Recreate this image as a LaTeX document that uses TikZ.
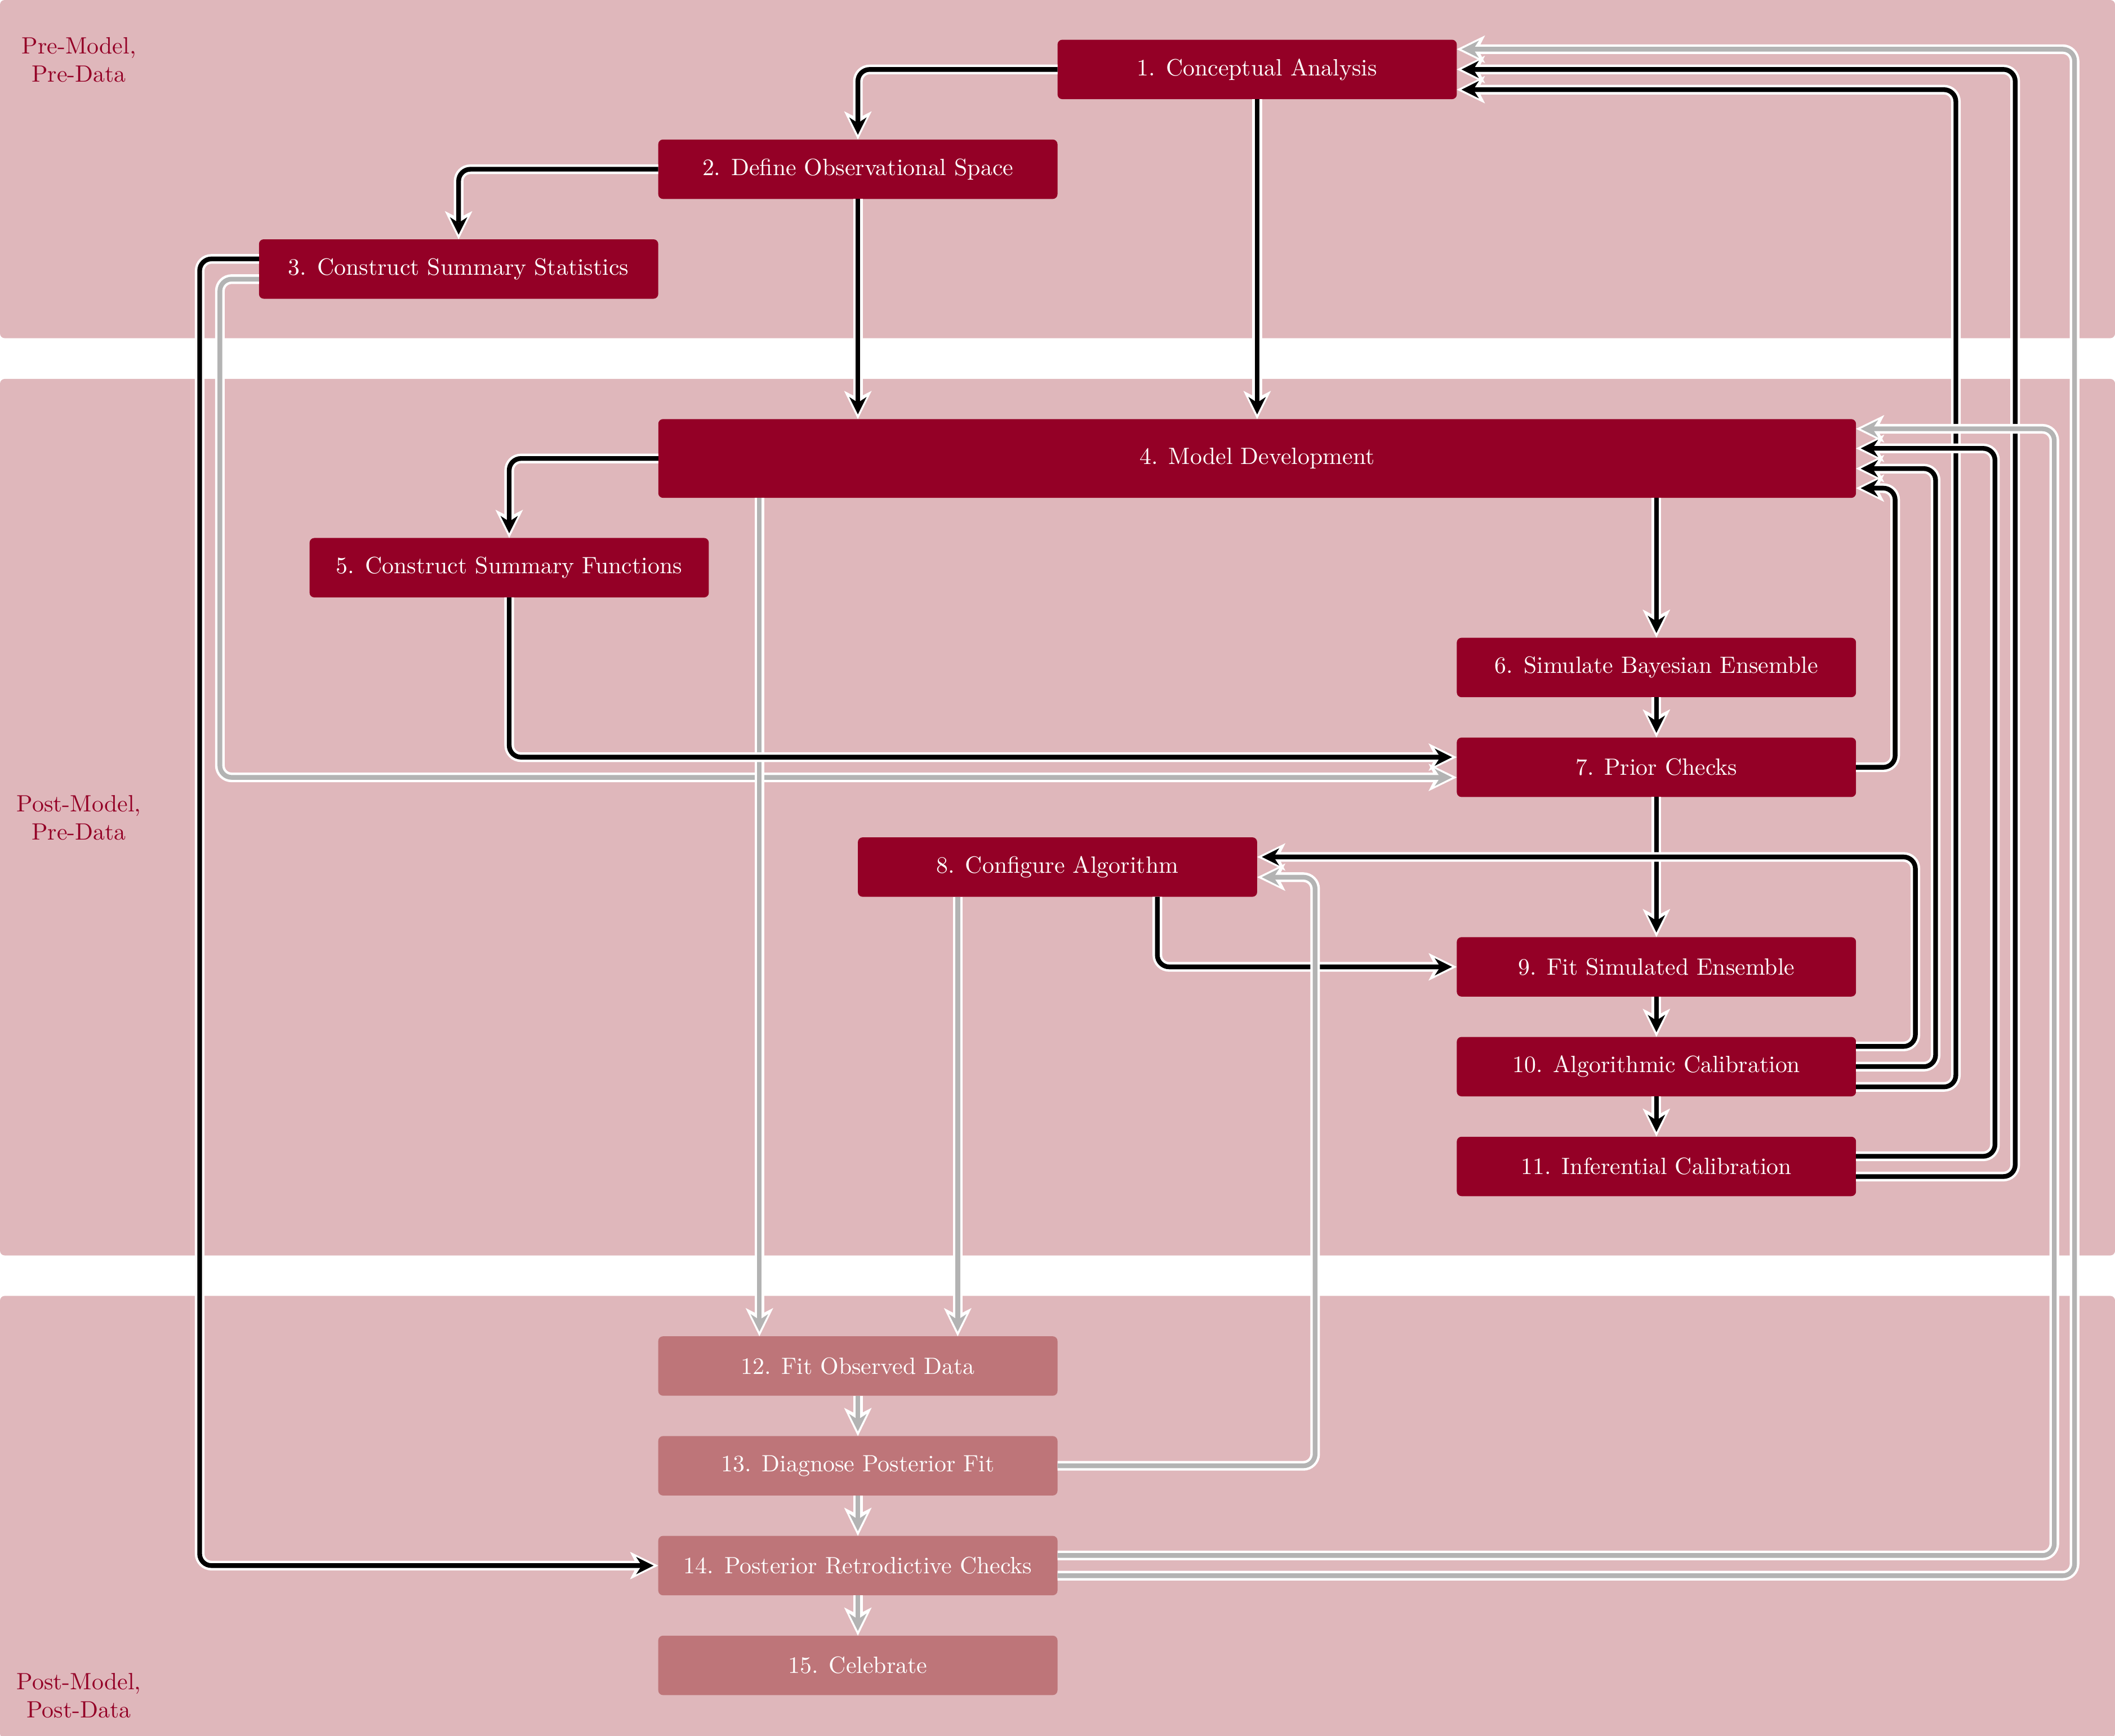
\documentclass[tikz,border=0pt]{standalone}
\usepackage{fontspec}
\usetikzlibrary{arrows.meta,calc}
\definecolor{bandc}{RGB}{223,183,187}
\definecolor{boxdark}{RGB}{148,0,38}
\definecolor{boxlight}{RGB}{190,117,121}
\definecolor{linegray}{RGB}{179,179,179}
\tikzset{
  band/.style={fill=bandc, draw=none, rounded corners=2pt},
  phase/.style={text=boxdark, align=center, font=\normalsize, inner sep=0pt},
  stepnode/.style={fill=boxdark, text=white, rounded corners=2pt, minimum width=169.3pt, minimum height=25.2pt, inner sep=0pt, outer sep=0pt, font=\normalsize},
  laterstep/.style={stepnode, fill=boxlight},
  widestep/.style={stepnode, minimum width=507.9pt, minimum height=33.4pt},
  link/.style={rounded corners=5pt, line width=2pt,
     preaction={draw=white, line width=4.1pt, shorten >=0pt,
       -{Stealth[length=12pt,width=11.7pt,inset=3pt,line width=0pt]}}},
  blackflow/.style={link, draw=black, shorten >=2pt,
       -{Stealth[length=7.4pt,width=7.4pt,inset=2.4pt,line width=0pt]}},
  grayflow/.style={link, draw=linegray, shorten >=2pt,
       -{Stealth[length=7.4pt,width=7.4pt,inset=2.4pt,line width=0pt]}},
}
\begin{document}
\begin{tikzpicture}[x=0.572pt, y=-0.572pt]
\useasboundingbox (0,0) rectangle (1568,1287);
% bands
\fill[band] (0,0) rectangle (1568,250.8);
\fill[band] (0,281) rectangle (1568,931);
\fill[band] (0,961) rectangle (1568,1289);
% phase labels
\node[phase] (p1) at (58.5,44.5) {Pre-Model,\\Pre-Data};
\node[phase] (p2) at (58.5,606.5) {Post-Model,\\Pre-Data};
\node[phase] (p3) at (58.5,1257.5) {Post-Model,\\Post-Data};
% steps
\node[stepnode] (n1) at (932,51.5) {1. Conceptual Analysis};
\node[stepnode] (n2) at (636,125.5) {2. Define Observational Space};
\node[stepnode] (n3) at (340,199.5) {3. Construct Summary Statistics};
\node[widestep] (n4) at (932,340) {4. Model Development};
\node[stepnode] (n5) at (377.5,421) {5. Construct Summary Functions};
\node[stepnode] (n6) at (1228,495) {6. Simulate Bayesian Ensemble};
\node[stepnode] (n7) at (1228,569) {7. Prior Checks};
\node[stepnode] (n8) at (784,643) {8. Configure Algorithm};
\node[stepnode] (n9) at (1228,717) {9. Fit Simulated Ensemble};
\node[stepnode] (n10) at (1228,791) {10. Algorithmic Calibration};
\node[stepnode] (n11) at (1228,865) {11. Inferential Calibration};
\node[laterstep] (n12) at (636,1013) {12. Fit Observed Data};
\node[laterstep] (n13) at (636,1087) {13. Diagnose Posterior Fit};
\node[laterstep] (n14) at (636,1161) {14. Posterior Retrodictive Checks};
\node[laterstep] (n15) at (636,1235) {15. Celebrate};
% helper coordinates
\coordinate (u1) at ($(n12.north)+(-73,0)$);
\coordinate (v1) at ($(n12.north)+(74,0)$);
\coordinate (l1) at ($(n8.south)+(74,0)$);
% connectors (order matters for crossings)
\draw[grayflow] ($(n3.west)+(0,7.5)$) -- ++(-29,0) |- ($(n7.west)+(0,7.5)$);
\draw[grayflow] (u1 |- n4.south) -- (u1);
\draw[blackflow] (n5.south) |- ($(n7.west)+(0,-7.5)$);
\draw[blackflow] (n1.west) -| (n2.north);
\draw[blackflow] (n2.west) -| (n3.north);
\draw[blackflow] (n2.south) -- (n2.south |- n4.north);
\draw[blackflow] (n1.south) -- (n1.south |- n4.north);
\draw[blackflow] ($(n3.west)+(0,-7.5)$) -- ++(-44,0) |- (n14.west);
\draw[blackflow] (n4.west) -| (n5.north);
\draw[blackflow] (n6.north |- n4.south) -- (n6.north);
\draw[blackflow] (n6.south) -- (n7.north);
\draw[blackflow] (n7.east) -- ++(29,0) |- ($(n4.east)+(0,22)$);
\draw[blackflow] (n7.south) -- (n9.north);
\draw[blackflow] (l1) |- (n9.west);
\draw[blackflow] (n9.south) -- (n10.north);
\draw[blackflow] (n10.south) -- (n11.north);
\draw[blackflow] ($(n10.east)+(0,-15)$) -- ++(44,0) |- ($(n8.east)+(0,-7.5)$);
\draw[grayflow] (n13.east) -- ++(191,0) |- ($(n8.east)+(0,7.5)$);
\draw[grayflow] ($(n8.south)+(-74,0)$) -- (v1);
\draw[grayflow] (n12.south) -- (n13.north);
\draw[grayflow] (n13.south) -- (n14.north);
\draw[grayflow] (n14.south) -- (n15.north);
\draw[blackflow] ($(n10.east)+(0,15)$) -- ++(74,0) |- ($(n1.east)+(0,15)$);
\draw[blackflow] ($(n11.east)+(0,7.5)$) -- ++(118,0) |- (n1.east);
\draw[blackflow] (n10.east) -- ++(59,0) |- ($(n4.east)+(0,7.5)$);
\draw[blackflow] ($(n11.east)+(0,-7.5)$) -- ++(103,0) |- ($(n4.east)+(0,-7.5)$);
\draw[grayflow] ($(n14.east)+(0,-7.5)$) -- ++(739,0) |- ($(n4.east)+(0,-22)$);
\draw[grayflow] ($(n14.east)+(0,7.5)$) -- ++(754,0) |- ($(n1.east)+(0,-15)$);
\end{tikzpicture}
\end{document}
